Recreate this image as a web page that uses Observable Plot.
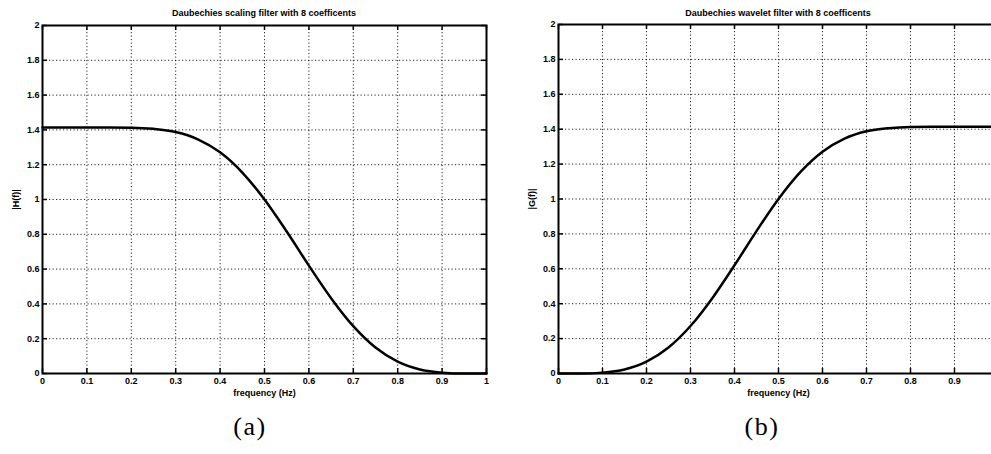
<!DOCTYPE html>
<html>
<head>
<meta charset="utf-8">
<script src="https://cdn.jsdelivr.net/npm/d3@7"></script>
<script src="https://cdn.jsdelivr.net/npm/@observablehq/plot@0.6"></script>
<style>
  html, body { margin: 0; padding: 0; background: #fff; }
  body { width: 991px; height: 454px; overflow: hidden; position: relative; font-family: "Liberation Sans", Arial, sans-serif; }
  .panel { position: absolute; top: 0; width: 495px; height: 400px; }
  .panel svg { max-width: none !important; width: 495px; height: 400px; }
  .title { position: absolute; font: bold 9px "Liberation Sans", Arial, sans-serif; color: #000; white-space: nowrap; transform: translateX(-50%); }
  .cap { position: absolute; font: 26px "Liberation Serif", "DejaVu Serif", serif; letter-spacing: 1.5px; color: #000; transform: translateX(-50%); }
</style>
</head>
<body>
<div id="titleA" class="title" style="left:264px; top:8px;">Daubechies scaling filter with 8 coefficents</div>
<div id="titleB" class="title" style="left:778px; top:8px;">Daubechies wavelet filter with 8 coefficents</div>
<div id="panelA" class="panel" style="left:0px;"></div>
<div id="panelB" class="panel" style="left:512px;"></div>
<div class="cap" style="left:250px; top:412px;">(a)</div>
<div class="cap" style="left:762px; top:412px;">(b)</div>
<script>
// Frequency samples (Hz, normalised)
const freq = [0, 0.05, 0.1, 0.15, 0.2, 0.25, 0.3, 0.35, 0.4, 0.45, 0.5, 0.55, 0.6, 0.65, 0.7, 0.75, 0.8, 0.85, 0.9, 0.95, 1];
// |H(f)| scaling filter magnitude
const hMag = [1.414, 1.414, 1.414, 1.414, 1.413, 1.406, 1.388, 1.346, 1.271, 1.155, 1.000, 0.816, 0.620, 0.433, 0.272, 0.149, 0.068, 0.023, 0.005, 0.000, 0.000];
// |G(f)| wavelet filter magnitude
const gMag = [0.000, 0.000, 0.005, 0.023, 0.068, 0.149, 0.272, 0.433, 0.620, 0.816, 1.000, 1.155, 1.271, 1.346, 1.388, 1.406, 1.413, 1.414, 1.414, 1.414, 1.414];
// Tick values
const xTicks = [0, 0.1, 0.2, 0.3, 0.4, 0.5, 0.6, 0.7, 0.8, 0.9, 1];
// panel (b) is cropped at the right edge in the reference: its "1" label is not visible
const xTickLabelsB = [0, 0.1, 0.2, 0.3, 0.4, 0.5, 0.6, 0.7, 0.8, 0.9];
const yTicks = [0, 0.2, 0.4, 0.6, 0.8, 1, 1.2, 1.4, 1.6, 1.8, 2];
const xLabel = "frequency (Hz)";
const yLabelA = "|H(f)|";
const yLabelB = "|G(f)|";

function panel(values, yLabel, xLabelTicks, opts) {
  const data = freq.map((f, i) => ({f, v: values[i]}));
  const H = 400;
  const plotH = H - opts.mt - opts.mb;
  const plotW = opts.w - opts.ml - opts.mr;
  const font = 'bold 9px "Liberation Sans", Arial, sans-serif';
  return Plot.plot({
    width: opts.w,
    height: H,
    marginLeft: opts.ml,
    marginRight: opts.mr,
    marginTop: opts.mt,
    marginBottom: opts.mb,
    style: {font, color: "#000", background: "transparent", overflow: "visible"},
    x: {domain: [0, 1]},
    y: {domain: [0, 2]},
    marks: [
      // dotted grid
      Plot.ruleX(xTicks.slice(1, -1), {stroke: "#000", strokeWidth: 1, strokeDasharray: "1.2,2.3", strokeOpacity: 0.85}),
      Plot.ruleY(yTicks.slice(1, -1), {stroke: "#000", strokeWidth: 1, strokeDasharray: "1.2,2.3", strokeOpacity: 0.85}),
      // inward ticks
      Plot.ruleX(xTicks, {stroke: "#000", strokeWidth: 1.5, insetTop: plotH - 5}),
      Plot.ruleX(xTicks, {stroke: "#000", strokeWidth: 1.5, insetBottom: plotH - 5}),
      Plot.ruleY(yTicks, {stroke: "#000", strokeWidth: 1.5, insetRight: plotW - 5}),
      Plot.ruleY(yTicks, {stroke: "#000", strokeWidth: 1.5, insetLeft: plotW - 5}),
      Plot.axisX(xLabelTicks, {anchor: "bottom", tickSize: 0, tickPadding: 4, tickFormat: d => String(d),
        label: xLabel, labelAnchor: "center", labelArrow: "none", labelOffset: 22, fontWeight: "bold"}),
      Plot.axisY(yTicks, {anchor: "left", tickSize: 0, tickPadding: 3, tickFormat: d => String(d),
        label: yLabel, labelAnchor: "center", labelArrow: "none", labelOffset: 30, fontWeight: "bold"}),
      Plot.line(data, {x: "f", y: "v", stroke: "#000", strokeWidth: 2.5, curve: "monotone-x"}),
      Plot.frame({stroke: "#000", strokeWidth: 2})
    ]
  });
}

document.getElementById("panelA").appendChild(panel(hMag, yLabelA, xTicks, {w: 495, ml: 42, mr: 9, mt: 25, mb: 27}));
document.getElementById("panelB").appendChild(panel(gMag, yLabelB, xTickLabelsB, {w: 495, ml: 46, mr: 9, mt: 24, mb: 27}));
</script>
</body>
</html>
